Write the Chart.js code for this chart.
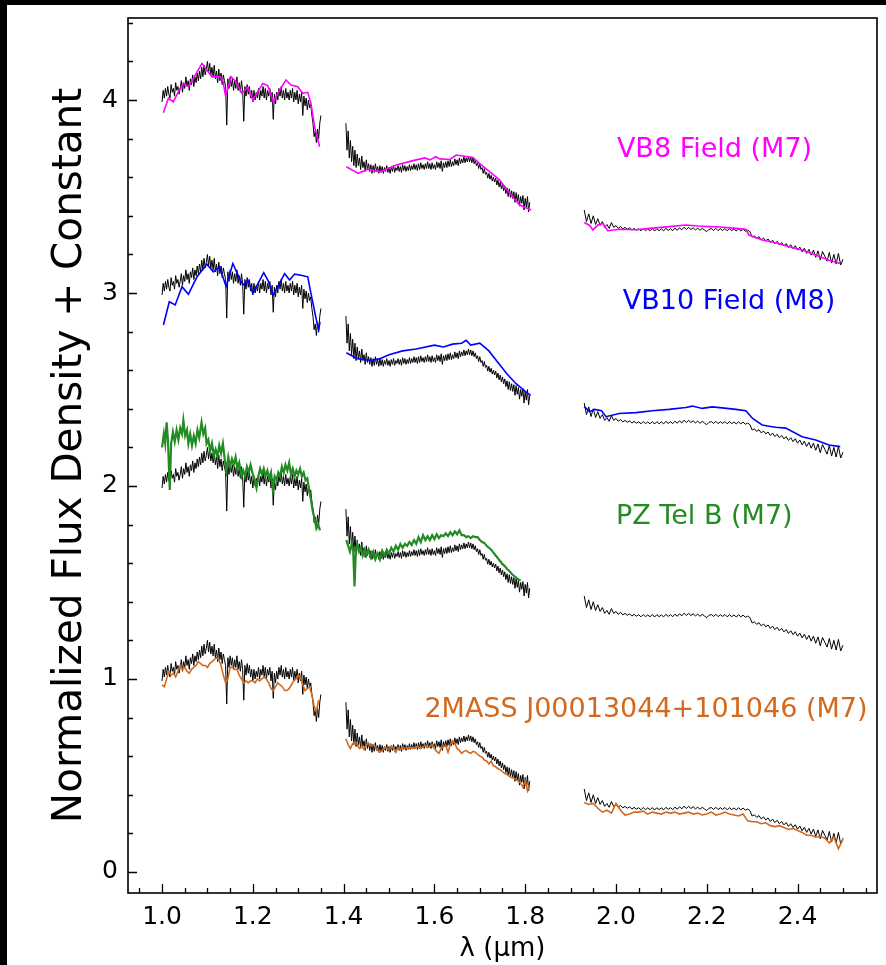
<!DOCTYPE html>
<html>
<head>
<meta charset="utf-8">
<script src="https://cdn.jsdelivr.net/npm/chart.js@4.4.1/dist/chart.umd.min.js"></script>
<style>
    body { margin: 0; background: #000; }
    #wrap { position: absolute; left: 7px; top: 5px; width: 879px; height: 960px; background: #fff; }
</style>
</head>
<body>
<div id="wrap"><canvas id="spectraChart"></canvas></div>
<script>
// target spectrum, normalized flux on a regular wavelength grid (um): [start, end, step]
const jGrid = [1.000, 1.350, 0.0025];
const hGrid = [1.405, 1.810, 0.0025];
const kGrid = [1.930, 2.500, 0.005];

const targetJ = [0.99, 1.05, 1.01, 1.06, 1.02, 1.07, 1.03, 1.01, 1.08, 1.04, 1.06, 1.02,
    1.09, 1.05, 1.07, 1.03, 1.06, 1.10, 1.04, 1.09, 1.06, 1.12, 1.07, 1.10,
    1.05, 1.11, 1.08, 1.13, 1.07, 1.12, 1.09, 1.14, 1.10, 1.15, 1.11, 1.17,
    1.12, 1.18, 1.13, 1.16, 1.20, 1.14, 1.19, 1.13, 1.17, 1.12, 1.18, 1.11,
    1.15, 1.09, 1.16, 1.10, 1.14, 1.08, 1.13, 1.10, 1.07, 0.87, 1.11, 1.06,
    1.12, 1.07, 1.11, 1.05, 1.10, 1.06, 1.12, 1.05, 1.09, 1.04, 1.10, 1.05,
    0.89, 1.07, 1.02, 1.08, 1.03, 1.07, 1.01, 1.05, 0.99, 1.05, 1.00, 1.04,
    1.01, 1.06, 1.00, 1.05, 1.02, 1.07, 1.01, 1.06, 1.00, 1.05, 1.02, 1.06,
    0.99, 1.04, 0.90, 1.03, 0.98, 1.04, 1.00, 1.06, 1.02, 1.07, 1.01, 1.05,
    1.00, 1.06, 1.01, 1.04, 1.00, 1.05, 1.01, 1.06, 0.99, 1.04, 1.00, 1.05,
    0.98, 1.03, 0.99, 1.04, 0.92, 1.02, 0.97, 1.01, 0.95, 1.00, 0.96, 0.98,
    0.92, 0.88, 0.81, 0.84, 0.78, 0.85, 0.80, 0.88, 0.92];
const targetH = [0.88, 0.74, 0.84, 0.70, 0.79, 0.68, 0.76, 0.66, 0.74, 0.65, 0.72, 0.66,
    0.70, 0.64, 0.71, 0.65, 0.68, 0.63, 0.69, 0.64, 0.67, 0.63, 0.665, 0.62,
    0.66, 0.625, 0.67, 0.63, 0.655, 0.62, 0.66, 0.625, 0.655, 0.62, 0.65, 0.63,
    0.66, 0.625, 0.65, 0.62, 0.655, 0.63, 0.66, 0.625, 0.65, 0.635, 0.66, 0.63,
    0.655, 0.625, 0.665, 0.635, 0.66, 0.63, 0.655, 0.635, 0.665, 0.635, 0.66, 0.64,
    0.67, 0.64, 0.665, 0.635, 0.67, 0.64, 0.675, 0.645, 0.665, 0.64, 0.67, 0.645,
    0.68, 0.645, 0.67, 0.64, 0.675, 0.645, 0.665, 0.64, 0.68, 0.65, 0.675, 0.645,
    0.685, 0.63, 0.675, 0.65, 0.68, 0.65, 0.685, 0.655, 0.69, 0.655, 0.68, 0.66,
    0.695, 0.665, 0.69, 0.66, 0.70, 0.67, 0.695, 0.675, 0.705, 0.675, 0.70, 0.68,
    0.71, 0.68, 0.705, 0.675, 0.70, 0.67, 0.69, 0.66, 0.675, 0.645, 0.67, 0.64,
    0.65, 0.62, 0.645, 0.615, 0.625, 0.595, 0.62, 0.59, 0.61, 0.58, 0.60, 0.575,
    0.595, 0.56, 0.585, 0.55, 0.575, 0.54, 0.565, 0.53, 0.555, 0.515, 0.545, 0.50,
    0.54, 0.495, 0.53, 0.49, 0.525, 0.47, 0.52, 0.475, 0.51, 0.45, 0.50, 0.465,
    0.505, 0.43, 0.49, 0.445, 0.50, 0.42, 0.47];
const targetK = [0.43, 0.37, 0.41, 0.36, 0.40, 0.355, 0.385, 0.35, 0.37, 0.34,
    0.355, 0.335, 0.365, 0.34, 0.35, 0.335, 0.345, 0.332, 0.34, 0.33,
    0.338, 0.326, 0.335, 0.325, 0.333, 0.322, 0.334, 0.323, 0.332, 0.322,
    0.334, 0.321, 0.333, 0.323, 0.332, 0.322, 0.335, 0.324, 0.333, 0.323,
    0.336, 0.325, 0.338, 0.327, 0.341, 0.329, 0.34, 0.329, 0.338, 0.327,
    0.336, 0.325, 0.335, 0.326, 0.318, 0.33, 0.334, 0.324, 0.335, 0.323,
    0.333, 0.324, 0.334, 0.322, 0.333, 0.323, 0.332, 0.321, 0.333, 0.322,
    0.331, 0.32, 0.326, 0.318, 0.29, 0.296, 0.283, 0.292, 0.275, 0.285,
    0.27, 0.28, 0.262, 0.274, 0.256, 0.268, 0.25, 0.262, 0.244, 0.256,
    0.236, 0.25, 0.23, 0.245, 0.222, 0.238, 0.213, 0.232, 0.205, 0.226,
    0.196, 0.222, 0.185, 0.218, 0.172, 0.215, 0.19, 0.165, 0.21, 0.155,
    0.2, 0.15, 0.205, 0.145, 0.175];

// comparison objects
const vb8Wave = [1.003, 1.014, 1.025, 1.036, 1.047, 1.058, 1.069, 1.088, 1.099, 1.11,
    1.128, 1.134, 1.14, 1.152, 1.163, 1.176, 1.189, 1.2, 1.222, 1.233,
    1.245, 1.257, 1.273, 1.284, 1.299, 1.31, 1.321, 1.328, 1.336, 1.347,
    1.406, 1.432, 1.454, 1.48, 1.516, 1.553, 1.579, 1.59, 1.603, 1.612,
    1.634, 1.648, 1.685, 1.70, 1.722, 1.744, 1.766, 1.788, 1.813,
    1.93, 1.942, 1.949, 1.96, 1.971, 1.982, 2.007, 2.044, 2.08, 2.117,
    2.154, 2.18, 2.205, 2.23, 2.264, 2.286, 2.293, 2.322, 2.352, 2.381,
    2.41, 2.44, 2.469, 2.494];
const vb8Flux = [0.934, 1.009, 0.991, 1.043, 1.086, 1.069, 1.112, 1.19, 1.155, 1.12,
    1.12, 1.10, 1.02, 1.12, 1.095, 1.035, 1.065, 1.0, 1.086, 1.075,
    0.99, 1.043, 1.104, 1.078, 1.069, 1.035, 1.04, 0.983, 0.862, 0.758,
    0.654, 0.62, 0.642, 0.628, 0.663, 0.686, 0.70, 0.69, 0.706, 0.695,
    0.692, 0.715, 0.702, 0.67, 0.628, 0.585, 0.516, 0.456, 0.43,
    0.365, 0.35, 0.326, 0.352, 0.36, 0.323, 0.33, 0.328, 0.336, 0.344,
    0.352, 0.347, 0.344, 0.342, 0.335, 0.33, 0.30, 0.275, 0.26, 0.24,
    0.223, 0.197, 0.17, 0.153];

const vb10Wave = [1.003, 1.016, 1.029, 1.044, 1.058, 1.077, 1.099, 1.113, 1.127, 1.141,
    1.156, 1.169, 1.178, 1.189, 1.2, 1.224, 1.233, 1.245, 1.27, 1.281,
    1.292, 1.306, 1.321, 1.328, 1.34, 1.345, 1.348,
    1.406, 1.43, 1.46, 1.48, 1.5, 1.53, 1.56, 1.6, 1.62, 1.64,
    1.66, 1.67, 1.68, 1.7, 1.72, 1.74, 1.76, 1.78, 1.80, 1.812,
    1.93, 1.942, 1.953, 1.968, 1.978, 2.007, 2.044, 2.08, 2.117, 2.154,
    2.168, 2.19, 2.212, 2.234, 2.264, 2.286, 2.301, 2.322, 2.337, 2.352,
    2.374, 2.41, 2.44, 2.469, 2.494];
const vb10Flux = [0.834, 0.955, 0.938, 1.033, 0.993, 1.084, 1.149, 1.11, 1.136, 1.033,
    1.153, 1.084, 1.041, 1.067, 0.998, 1.105, 1.067, 0.99, 1.10, 1.067,
    1.098, 1.092, 1.084, 0.998, 0.86, 0.81, 0.85,
    0.69, 0.66, 0.65, 0.66, 0.68, 0.70, 0.71, 0.73, 0.72, 0.735,
    0.74, 0.755, 0.73, 0.74, 0.70, 0.64, 0.58, 0.53, 0.49, 0.47,
    0.411, 0.385, 0.397, 0.39, 0.359, 0.376, 0.38, 0.39, 0.397, 0.407,
    0.414, 0.402, 0.41, 0.405, 0.397, 0.39, 0.35, 0.316, 0.31, 0.304,
    0.30, 0.255, 0.238, 0.212, 0.204];

const pzWave = [1.000, 1.004, 1.007, 1.010, 1.013, 1.017, 1.020, 1.024, 1.028, 1.032,
    1.036, 1.040, 1.044, 1.047, 1.051, 1.055, 1.058, 1.062, 1.066, 1.070,
    1.074, 1.078, 1.082, 1.087, 1.091, 1.095, 1.098, 1.102, 1.106, 1.110,
    1.114, 1.118, 1.122, 1.126, 1.130, 1.134, 1.138, 1.142, 1.146, 1.150,
    1.154, 1.158, 1.162, 1.166, 1.170, 1.175, 1.179, 1.183, 1.187, 1.191,
    1.195, 1.200, 1.204, 1.208, 1.212, 1.216, 1.220, 1.224, 1.228, 1.232,
    1.236, 1.240, 1.244, 1.248, 1.252, 1.256, 1.260, 1.264, 1.268, 1.272,
    1.276, 1.280, 1.284, 1.288, 1.292, 1.296, 1.300, 1.304, 1.308, 1.312,
    1.316, 1.320, 1.324, 1.328, 1.332, 1.336, 1.340, 1.344, 1.348,
    1.406, 1.410, 1.414, 1.418, 1.421, 1.424, 1.427, 1.430, 1.434, 1.438,
    1.442, 1.446, 1.450, 1.455, 1.460, 1.465, 1.470, 1.475, 1.480, 1.485,
    1.490, 1.495, 1.500, 1.505, 1.510, 1.515, 1.520, 1.525, 1.530, 1.535,
    1.540, 1.545, 1.550, 1.555, 1.560, 1.565, 1.570, 1.575, 1.580, 1.585,
    1.590, 1.595, 1.600, 1.605, 1.610, 1.615, 1.620, 1.625, 1.630, 1.635,
    1.640, 1.645, 1.650, 1.655, 1.660, 1.665, 1.670, 1.675, 1.680, 1.685,
    1.690, 1.695, 1.700, 1.705, 1.710, 1.715, 1.720, 1.725, 1.730, 1.735,
    1.740, 1.745, 1.750, 1.755, 1.760, 1.765, 1.770, 1.775, 1.780, 1.785, 1.790];
const pzFlux = [1.20, 1.27, 1.22, 1.33, 1.24, 0.98, 1.22, 1.28, 1.23, 1.29,
    1.24, 1.30, 1.27, 1.34, 1.26, 1.29, 1.22, 1.27, 1.21, 1.26,
    1.22, 1.29, 1.25, 1.33, 1.27, 1.30, 1.22, 1.24, 1.18, 1.22,
    1.16, 1.19, 1.15, 1.21, 1.17, 1.22, 1.14, 1.08, 1.15, 1.10,
    1.14, 1.11, 1.15, 1.09, 1.12, 1.05, 1.08, 1.05, 1.10, 1.07,
    1.11, 1.06, 1.03, 0.99, 1.05, 1.09, 1.06, 1.09, 1.05, 1.08,
    1.04, 1.07, 0.98, 1.05, 1.03, 1.07, 1.05, 1.10, 1.07, 1.11,
    1.08, 1.12, 1.06, 1.09, 1.05, 1.08, 1.06, 1.09, 1.05, 1.07,
    1.03, 1.04, 0.98, 0.93, 0.87, 0.83, 0.78, 0.80, 0.77,
    0.72, 0.69, 0.66, 0.70, 0.67, 0.48, 0.67, 0.70, 0.66, 0.68,
    0.64, 0.67, 0.64, 0.67, 0.63, 0.66, 0.62, 0.65, 0.62, 0.665,
    0.64, 0.67, 0.65, 0.68, 0.66, 0.69, 0.67, 0.70, 0.68, 0.70,
    0.69, 0.71, 0.695, 0.72, 0.70, 0.735, 0.71, 0.745, 0.72, 0.74,
    0.72, 0.745, 0.725, 0.75, 0.73, 0.745, 0.74, 0.755, 0.74, 0.76,
    0.745, 0.765, 0.75, 0.77, 0.745, 0.745, 0.735, 0.74, 0.73, 0.74,
    0.735, 0.735, 0.72, 0.71, 0.705, 0.69, 0.68, 0.67, 0.655, 0.64,
    0.625, 0.61, 0.595, 0.585, 0.57, 0.56, 0.545, 0.535, 0.525, 0.515, 0.51];

// 2MASS J00013044+101046, sampled every 0.005 / 0.01 um
const massJGrid = [1.000, 1.345, 0.005];
const massHGrid = [1.405, 1.810, 0.005];
const massKGrid = [1.930, 2.500, 0.01];
const massJ = [0.97, 0.96, 1.00, 1.04, 1.02, 1.03, 1.01, 1.04, 1.07, 1.05,
    1.06, 1.04, 1.03, 1.05, 1.06, 1.07, 1.09, 1.08, 1.07, 1.07,
    1.06, 1.08, 1.09, 1.10, 1.11, 1.10, 1.07, 1.02, 0.98, 1.00,
    1.06, 1.06, 1.05, 1.05, 1.02, 1.00, 0.98, 0.99, 0.98, 0.99,
    0.99, 0.98, 1.00, 0.99, 1.00, 1.01, 1.00, 0.98, 0.95, 0.94,
    0.96, 0.98, 0.97, 0.96, 0.94, 0.94, 0.95, 0.97, 0.99, 1.00,
    1.02, 1.01, 0.97, 0.94, 0.95, 0.96, 0.92, 0.86, 0.83, 0.89];
const massH = [0.69, 0.66, 0.64, 0.665, 0.675, 0.66, 0.64, 0.65, 0.635, 0.66,
    0.665, 0.655, 0.66, 0.645, 0.63, 0.62, 0.63, 0.645, 0.64, 0.635,
    0.65, 0.64, 0.62, 0.645, 0.635, 0.645, 0.64, 0.645, 0.64, 0.645,
    0.64, 0.65, 0.645, 0.64, 0.65, 0.655, 0.645, 0.65, 0.66, 0.64,
    0.625, 0.615, 0.64, 0.65, 0.655, 0.62, 0.66, 0.68, 0.665, 0.64,
    0.63, 0.615, 0.625, 0.63, 0.62, 0.615, 0.625, 0.62, 0.61, 0.60,
    0.595, 0.58, 0.575, 0.56, 0.575, 0.55, 0.545, 0.535, 0.53, 0.52,
    0.51, 0.505, 0.495, 0.49, 0.485, 0.48, 0.47, 0.46, 0.44, 0.475, 0.42, 0.45];
const massK = [0.36, 0.35, 0.355, 0.33, 0.31, 0.32, 0.305, 0.355, 0.32, 0.295,
    0.30, 0.31, 0.31, 0.315, 0.30, 0.31, 0.305, 0.30, 0.31, 0.305,
    0.31, 0.30, 0.305, 0.31, 0.30, 0.305, 0.295, 0.30, 0.31, 0.295,
    0.30, 0.31, 0.30, 0.295, 0.29, 0.30, 0.265, 0.26, 0.26, 0.25,
    0.255, 0.24, 0.235, 0.24, 0.23, 0.22, 0.225, 0.215, 0.205, 0.19,
    0.19, 0.18, 0.185, 0.175, 0.15, 0.18, 0.12, 0.17];

// constants added to each pair (top to bottom)
const offsets = [3, 2, 1, 0];
const names = ["VB8 Field (M7)", "VB10 Field (M8)", "PZ Tel B (M7)", "2MASS J00013044+101046 (M7)"];
const colors = ["#ff00ff", "#0000ff", "#228b22", "#d2691e"];
const lineWidths = [1.6, 1.6, 2.2, 1.6];
// where the names are written (data coordinates)
const labelX = [2.002, 2.015, 2.0, 1.578];
const labelY = [3.74, 2.953, 1.84, 0.84];

function grid(g) {
    const [start, end, step] = g;
    const n = Math.round((end - start) / step) + 1;
    const out = [];
    for (let i = 0; i < n; i++) out.push(Math.round((start + i * step) * 10000) / 10000);
    return out;
}

// pair wavelengths with fluxes, break the line across the telluric gaps
function buildSeries(wave, flux, offset) {
    const pts = [];
    for (let i = 0; i < wave.length; i++) {
        if (i > 0 && wave[i] - wave[i - 1] > 0.05) {
            pts.push({ x: (wave[i] + wave[i - 1]) / 2, y: null });
        }
        pts.push({ x: wave[i], y: flux[i] + offset });
    }
    return pts;
}

const targetWave = grid(jGrid).concat(grid(hGrid), grid(kGrid));
const targetFlux = targetJ.concat(targetH, targetK);
const massWave = grid(massJGrid).concat(grid(massHGrid), grid(massKGrid));
const massFlux = massJ.concat(massH, massK);

const modelWaves = [vb8Wave, vb10Wave, pzWave, massWave];
const modelFluxes = [vb8Flux, vb10Flux, pzFlux, massFlux];

const datasets = [];
offsets.forEach((off, i) => {
    datasets.push({
        label: names[i],
        data: buildSeries(modelWaves[i], modelFluxes[i], off),
        borderColor: colors[i],
        borderWidth: lineWidths[i],
        order: 0
    });
    datasets.push({
        label: "target + " + off,
        data: buildSeries(targetWave, targetFlux, off),
        borderColor: "#000",
        borderWidth: 1,
        order: 1
    });
});

// names written beside the spectra
const namePlugin = {
    id: "names",
    afterDatasetsDraw(chart) {
        const { ctx, scales: { x, y } } = chart;
        ctx.save();
        ctx.font = '27px "DejaVu Sans"';
        ctx.textBaseline = "middle";
        ctx.textAlign = "left";
        names.forEach((n, i) => {
            ctx.fillStyle = colors[i];
            ctx.fillText(n, x.getPixelForValue(labelX[i]), y.getPixelForValue(labelY[i]));
        });
        ctx.restore();
    }
};

// box around the plot + inward ticks like matplotlib
const framePlugin = {
    id: "frame",
    afterDraw(chart) {
        const { ctx, chartArea: a, scales: { x, y } } = chart;
        ctx.save();
        ctx.strokeStyle = "#000";
        ctx.lineWidth = 1.3;
        ctx.beginPath();
        for (let i = 19; i <= 51; i++) {
            const px = Math.round(x.getPixelForValue(i * 0.05)) + 0.5;
            const len = i % 4 === 0 ? 9 : 5;
            ctx.moveTo(px, a.bottom);
            ctx.lineTo(px, a.bottom - len);
        }
        for (let i = 0; i <= 22; i++) {
            const py = Math.round(y.getPixelForValue(i * 0.2)) + 0.5;
            const len = i % 5 === 0 ? 9 : 5;
            ctx.moveTo(a.left, py);
            ctx.lineTo(a.left + len, py);
        }
        ctx.stroke();
        ctx.lineWidth = 1.6;
        ctx.strokeRect(a.left, a.top, a.right - a.left, a.bottom - a.top);
        ctx.restore();
    }
};

Chart.defaults.font.family = '"DejaVu Sans", sans-serif';
Chart.defaults.color = "#000";

new Chart("spectraChart", {
    type: "line",
    data: { datasets: datasets },
    plugins: [namePlugin, framePlugin],
    options: {
        responsive: true,
        maintainAspectRatio: false,
        animation: false,
        events: [],
        layout: { padding: { top: 13, right: 9, left: 0, bottom: 0 } },
        elements: { point: { radius: 0 }, line: { tension: 0 } },
        spanGaps: false,
        plugins: { legend: { display: false }, tooltip: { enabled: false } },
        scales: {
            x: {
                type: "linear",
                min: 0.925,
                max: 2.575,
                border: { display: false },
                grid: { display: false, drawTicks: false },
                ticks: {
                    stepSize: 0.2,
                    includeBounds: false,
                    maxRotation: 0,
                    autoSkip: false,
                    padding: 9,
                    font: { size: 25 },
                    callback: v => v.toFixed(1)
                },
                title: {
                    display: true,
                    text: "λ (μm)",
                    font: { size: 26 },
                    padding: { top: 0, bottom: 0 }
                },
                afterFit: s => {
                    s.height = 72;
                    s.paddingLeft = 0;
                    s.paddingRight = 0;
                }
            },
            y: {
                min: -0.109,
                max: 4.425,
                border: { display: false },
                grid: { display: false, drawTicks: false },
                ticks: {
                    stepSize: 1,
                    includeBounds: false,
                    padding: 10,
                    font: { size: 25 },
                    callback: v => v.toFixed(0)
                },
                title: {
                    display: true,
                    text: "Normalized Flux Density + Constant",
                    font: { size: 40.5 },
                    padding: { top: 39, bottom: 0 }
                },
                afterFit: s => {
                    s.width = 121;
                    s.paddingTop = 0;
                    s.paddingBottom = 0;
                }
            }
        }
    }
});
</script>
</body>
</html>
